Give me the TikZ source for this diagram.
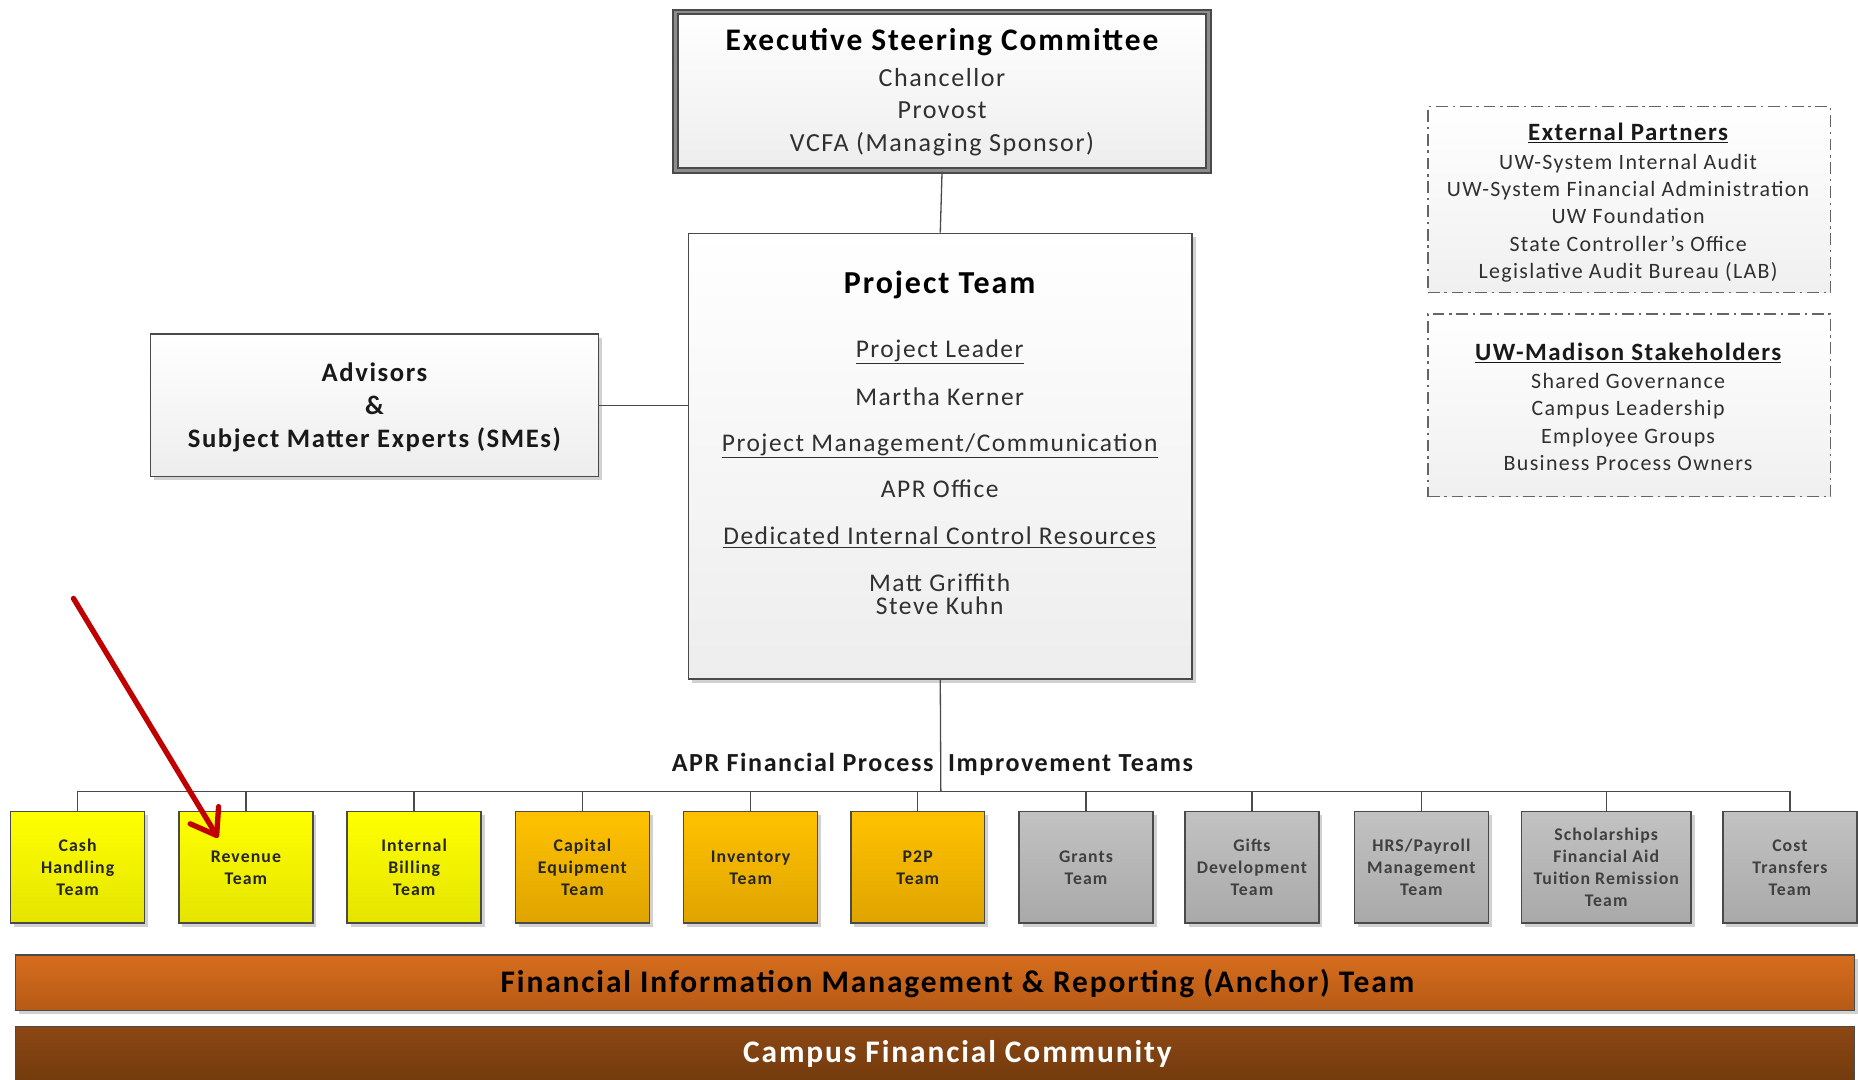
\documentclass[tikz,border=0pt]{standalone}
\usepackage{fontspec}
\setmainfont{Carlito}[LetterSpace=6]
\usetikzlibrary{arrows.meta,shadows}
\definecolor{bordergray}{HTML}{4A4A4A}
\definecolor{txtgray}{HTML}{303030}
\definecolor{ylwtop}{HTML}{FFFF00}
\definecolor{ylwbot}{HTML}{E4E400}
\definecolor{orgtop}{HTML}{FFC200}
\definecolor{orgbot}{HTML}{DFA400}
\definecolor{grytop}{HTML}{C2C2C2}
\definecolor{grybot}{HTML}{A9A9A9}
\definecolor{anctop}{HTML}{D66D1D}
\definecolor{ancbot}{HTML}{B65A16}
\definecolor{camtop}{HTML}{8C4714}
\definecolor{cambot}{HTML}{713A0D}
\definecolor{arrowred}{HTML}{C00000}
\newcommand{\fsz}[1]{\fontsize{#1}{#1}\selectfont}
\begin{document}
\begin{tikzpicture}[x=1pt,y=-1pt,
  shadowed/.style={drop shadow={shadow xshift=3pt,shadow yshift=-3pt,opacity=0.18,fill=black}},
  gbox/.style={shape=rectangle,draw=bordergray,line width=1.2pt,top color=white,bottom color=black!7,inner sep=0pt,shadowed},
  dbox/.style={shape=rectangle,draw=bordergray!85,line width=1.1pt,dash pattern=on 10pt off 4pt on 2pt off 4pt,top color=white,bottom color=black!6,inner sep=0pt},
  team/.style={shape=rectangle,draw=bordergray,line width=1.2pt,minimum width=113pt,minimum height=94pt,inner sep=0pt,align=center,font=\fontsize{15}{18.5}\selectfont\bfseries,text=black!85,shadowed},
  yteam/.style={team,top color=ylwtop,bottom color=ylwbot},
  oteam/.style={team,top color=orgtop,bottom color=orgbot},
  gteam/.style={team,top color=grytop,bottom color=grybot,text=black!75},
  lbl/.style={inner sep=0pt,text height=0.95em,text depth=0.08em,text=txtgray,yshift=-4.5pt},
  conn/.style={draw=bordergray,line width=1.1pt},
  bar/.style={shape=rectangle,draw=bordergray,line width=1pt,minimum width=1552pt,inner sep=0pt},
]
\useasboundingbox (0,0) rectangle (1568,911);

% Executive steering committee
\node[gbox,draw=bordergray,line width=1.8pt,double=black!45,double distance=2pt,minimum width=450pt,minimum height=134pt] (exec) at (795,77) {};
\node[lbl,text=black,font=\fsz{26.5}\bfseries] (ex1) at (795,34) {Executive Steering Committee};
\node[lbl,font=\fsz{22}] (ex2) at (795,64) {Chancellor};
\node[lbl,font=\fsz{22}] (ex3) at (795,91) {Provost};
\node[lbl,font=\fsz{22}] (ex4) at (795,119) {VCFA (Managing Sponsor)};

% Project team
\node[gbox,minimum width=425pt,minimum height=376pt] (pt) at (793.5,385) {};
\node[lbl,text=black,font=\fsz{27}\bfseries] (pt0) at (793,239) {Project Team};
\node[lbl,font=\fsz{21.5}] (pt1) at (793,293) {\underline{Project Leader}};
\node[lbl,font=\fsz{21.5}] (pt2) at (793,333) {Martha Kerner};
\node[lbl,font=\fsz{21.5}] (pt3) at (793,372) {\underline{Project Management/Communication}};
\node[lbl,font=\fsz{21.5}] (pt4) at (793,411) {APR Office};
\node[lbl,font=\fsz{21.5}] (pt5) at (793,451) {\underline{Dedicated Internal Control Resources}};
\node[lbl,font=\fsz{21.5}] (pt6) at (793,490) {Matt Griffith};
\node[lbl,font=\fsz{21.5}] (pt7) at (793,510) {Steve Kuhn};

% Advisors
\node[gbox,minimum width=378pt,minimum height=120pt] (adv) at (316,342) {};
\node[lbl,text=black!90,font=\fsz{22.5}\bfseries] (adv1) at (316,313) {Advisors};
\node[lbl,text=black!90,font=\fsz{22.5}\bfseries] (adv2) at (316,341) {\&};
\node[lbl,text=black!90,font=\fsz{22.5}\bfseries] (adv3) at (316,369) {Subject Matter Experts (SMEs)};

% External partners
\node[dbox,minimum width=340pt,minimum height=157pt] (ext) at (1375,168.5) {};
\node[lbl,text=black!90,font=\fsz{21}\bfseries] (ext0) at (1374,110) {\underline{External Partners}};
\node[lbl,font=\fsz{18.5}] (ext1) at (1374,134) {UW-System Internal Audit};
\node[lbl,font=\fsz{18.5}] (ext2) at (1374,157) {UW-System Financial Administration};
\node[lbl,font=\fsz{18.5}] (ext3) at (1374,180) {UW Foundation};
\node[lbl,font=\fsz{18.5}] (ext4) at (1374,203) {State Controller’s Office};
\node[lbl,font=\fsz{18.5}] (ext5) at (1374,226) {Legislative Audit Bureau (LAB)};

% UW-Madison stakeholders
\node[dbox,minimum width=340pt,minimum height=154pt] (uwm) at (1375,342) {};
\node[lbl,text=black!90,font=\fsz{21}\bfseries] (uwm0) at (1374,295) {\underline{UW-Madison Stakeholders}};
\node[lbl,font=\fsz{18.5}] (uwm1) at (1374,319) {Shared Governance};
\node[lbl,font=\fsz{18.5}] (uwm2) at (1374,342) {Campus Leadership};
\node[lbl,font=\fsz{18.5}] (uwm3) at (1374,365) {Employee Groups};
\node[lbl,font=\fsz{18.5}] (uwm4) at (1374,388) {Business Process Owners};

% Teams
\node[yteam] (t1) at (65.5,732) {Cash\\Handling\\Team};
\node[yteam] (t2) at (207.5,732) {Revenue\\Team};
\node[yteam] (t3) at (349.5,732) {Internal\\Billing\\Team};
\node[oteam] (t4) at (491.5,732) {Capital\\Equipment\\Team};
\node[oteam] (t5) at (633.5,732) {Inventory\\Team};
\node[oteam] (t6) at (774.5,732) {P2P\\Team};
\node[gteam] (t7) at (916.5,732) {Grants\\Team};
\node[gteam] (t8) at (1056.5,732) {Gifts\\Development\\Team};
\node[gteam] (t9) at (1199.5,732) {HRS/Payroll\\Management\\Team};
\node[gteam,minimum width=143pt] (t10) at (1355.5,732) {Scholarships\\Financial Aid\\Tuition Remission\\Team};
\node[gteam] (t11) at (1510.5,732) {Cost\\Transfers\\Team};

% Connectors
\coordinate (bus) at (794,668);
\draw[conn] (exec.south) -- (pt.north);
\draw[conn] (adv.east) -- (adv.east -| pt.west);
\draw[conn] (pt.south) -- (bus);
\foreach \t in {t1,t2,t3,t4,t5,t6,t7,t8,t9,t10,t11}{\draw[conn] (\t.north) |- (bus);}

\node[lbl,anchor=east,text=black!90,font=\fsz{22}\bfseries] (apr1) at (788,642) {APR Financial Process};
\node[lbl,anchor=west,text=black!90,font=\fsz{22}\bfseries] (apr2) at (800,642) {Improvement Teams};

% Bars
\node[bar,minimum height=47pt,top color=anctop,bottom color=ancbot,shadowed] (anchor) at (789,829.5) {};
\node[lbl,text=black,font=\fsz{26.5}\bfseries] (anchortxt) at (808,829) {Financial Information Management \& Reporting (Anchor) Team};
\node[bar,minimum height=50pt,top color=camtop,bottom color=cambot] (campus) at (789,891) {};
\node[lbl,text=white,font=\fsz{26.5}\bfseries] (campustxt) at (808,888) {Campus Financial Community};

% Red arrow
\coordinate (arrS) at (62,505);
\coordinate (arrE) at (184,707);
\draw[draw=arrowred,line width=4.5pt,line cap=round,-{Straight Barb[length=20pt,width=28pt,line width=4.5pt,round]}] (arrS) -- (arrE);
\end{tikzpicture}
\end{document}
